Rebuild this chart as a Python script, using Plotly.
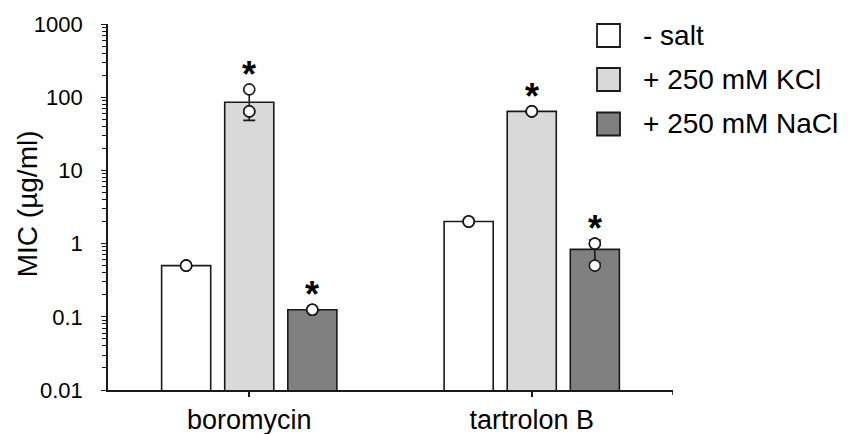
import math
import plotly.graph_objects as go

# ---- data ----
categories = ["boromycin", "tartrolon B"]
series_names = ["- salt", "+ 250 mM KCl", "+ 250 mM NaCl"]

mic_no_salt = [0.5, 2.0]
mic_kcl = [85.3, 64.0]
mic_nacl = [0.125, 0.833]

sd_no_salt = [None, None]
sd_kcl = [37.0, None]
sd_nacl = [None, 0.289]

reps_no_salt = [[0.5, 0.5, 0.5], [2.0, 2.0, 2.0]]
reps_kcl = [[128.0, 64.0, 64.0], [64.0, 64.0, 64.0]]
reps_nacl = [[0.125, 0.125, 0.125], [1.0, 1.0, 0.5]]

signif_no_salt = [False, False]
signif_kcl = [True, True]
signif_nacl = [True, True]

y_tick_vals = [0.01, 0.1, 1, 10, 100, 1000]
y_tick_text = ["0.01", "0.1", "1", "10", "100", "1000"]
y_title = "MIC (µg/ml)"

# ---- style ----
FONT = "Liberation Sans, Arial, sans-serif"
fills = ["#ffffff", "#d9d9d9", "#808080"]
EDGE = "#1a1a1a"
groups = ["g0", "g1", "g2"]
BARGAP = 0.33
BARGROUPGAP = 0.222

means = [mic_no_salt, mic_kcl, mic_nacl]
sds = [sd_no_salt, sd_kcl, sd_nacl]
reps = [reps_no_salt, reps_kcl, reps_nacl]
signifs = [signif_no_salt, signif_kcl, signif_nacl]

fig = go.Figure()

for name, m, sd, col, g in zip(series_names, means, sds, fills, groups):
    fig.add_trace(go.Bar(
        x=categories, y=m, name=name, offsetgroup=g, showlegend=False,
        marker=dict(color=col, line=dict(color=EDGE, width=1.6)),
        error_y=dict(type="data", array=sd, visible=True, color=EDGE,
                     thickness=1.6, width=6),
    ))

for name, rp, g in zip(series_names, reps, groups):
    xs, ys = [], []
    for cat, vals in zip(categories, rp):
        for v in vals:
            xs.append(cat)
            ys.append(v)
    fig.add_trace(go.Scatter(
        x=xs, y=ys, mode="markers", offsetgroup=g, showlegend=False,
        marker=dict(symbol="circle", size=11, color="white",
                    line=dict(color=EDGE, width=1.6)),
        hoverinfo="y",
    ))

# significance asterisks, placed over each bar's slot in the group
n_series = len(series_names)
slot = (1 - BARGAP) / n_series
for i, (rp, sg) in enumerate(zip(reps, signifs)):
    for ci, (vals, s) in enumerate(zip(rp, sg)):
        if not s:
            continue
        fig.add_annotation(
            x=ci + (i - (n_series - 1) / 2) * slot, xref="x",
            y=math.log10(max(vals)), yref="y",
            text="<b>*</b>", showarrow=False, yanchor="middle",
            yshift=15, font=dict(family=FONT, size=36, color="black"),
        )

# legend (drawn in paper coordinates)
box_x0, box_x1, text_x = 0.8655, 0.9062, 0.944
row_y = [0.9686, 0.8484, 0.7268]
half_h = 0.0314
for name, col, yc in zip(series_names, fills, row_y):
    fig.add_shape(type="rect", xref="paper", yref="paper",
                  x0=box_x0, x1=box_x1, y0=yc - half_h, y1=yc + half_h,
                  fillcolor=col, line=dict(color=EDGE, width=1.8))
    fig.add_annotation(x=text_x, y=yc, xref="paper", yref="paper",
                       text=name, showarrow=False, xanchor="left",
                       yanchor="middle",
                       font=dict(family=FONT, size=28, color="black"))

# y-axis title
fig.add_annotation(x=-0.143, y=0.508, xref="paper", yref="paper",
                   text=y_title, textangle=-90, showarrow=False,
                   xanchor="center", yanchor="middle",
                   font=dict(family=FONT, size=28, color="black"))

fig.add_shape(type="line", xref="x", yref="paper", x0=1.5, x1=1.5,
              y0=0, y1=-0.014, line=dict(color=EDGE, width=1.6))

fig.update_layout(
    width=852, height=434,
    margin=dict(l=108, r=179, t=24, b=44),
    paper_bgcolor="white", plot_bgcolor="white",
    font=dict(family=FONT, color="black"),
    barmode="group", bargap=BARGAP, bargroupgap=BARGROUPGAP,
    scattermode="group", scattergap=BARGAP,
    showlegend=False,
)

fig.update_xaxes(
    type="category", range=[-0.5, 1.5], automargin=False,
    showline=True, linecolor=EDGE, linewidth=1.6,
    ticks="outside", ticklen=5, tickwidth=1.6, tickcolor=EDGE,
    tickfont=dict(size=27, family=FONT),
    showgrid=False, zeroline=False,
)

fig.update_yaxes(
    type="log", range=[-2, 3], automargin=False,
    tickvals=y_tick_vals, ticktext=y_tick_text,
    showline=True, linecolor=EDGE, linewidth=1.6,
    ticks="outside", ticklen=5, tickwidth=1.4, tickcolor=EDGE,
    minor=dict(ticks="outside", ticklen=4, tickwidth=1.2, tickcolor=EDGE,
               dtick="D1", showgrid=False),
    tickfont=dict(size=22, family=FONT), ticklabelstandoff=14,
    showgrid=False, zeroline=False,
)

fig.write_html(
    "out.html",
    config={"displayModeBar": False},
    post_script="document.body.style.margin='0';document.body.style.overflow='hidden';",
)
